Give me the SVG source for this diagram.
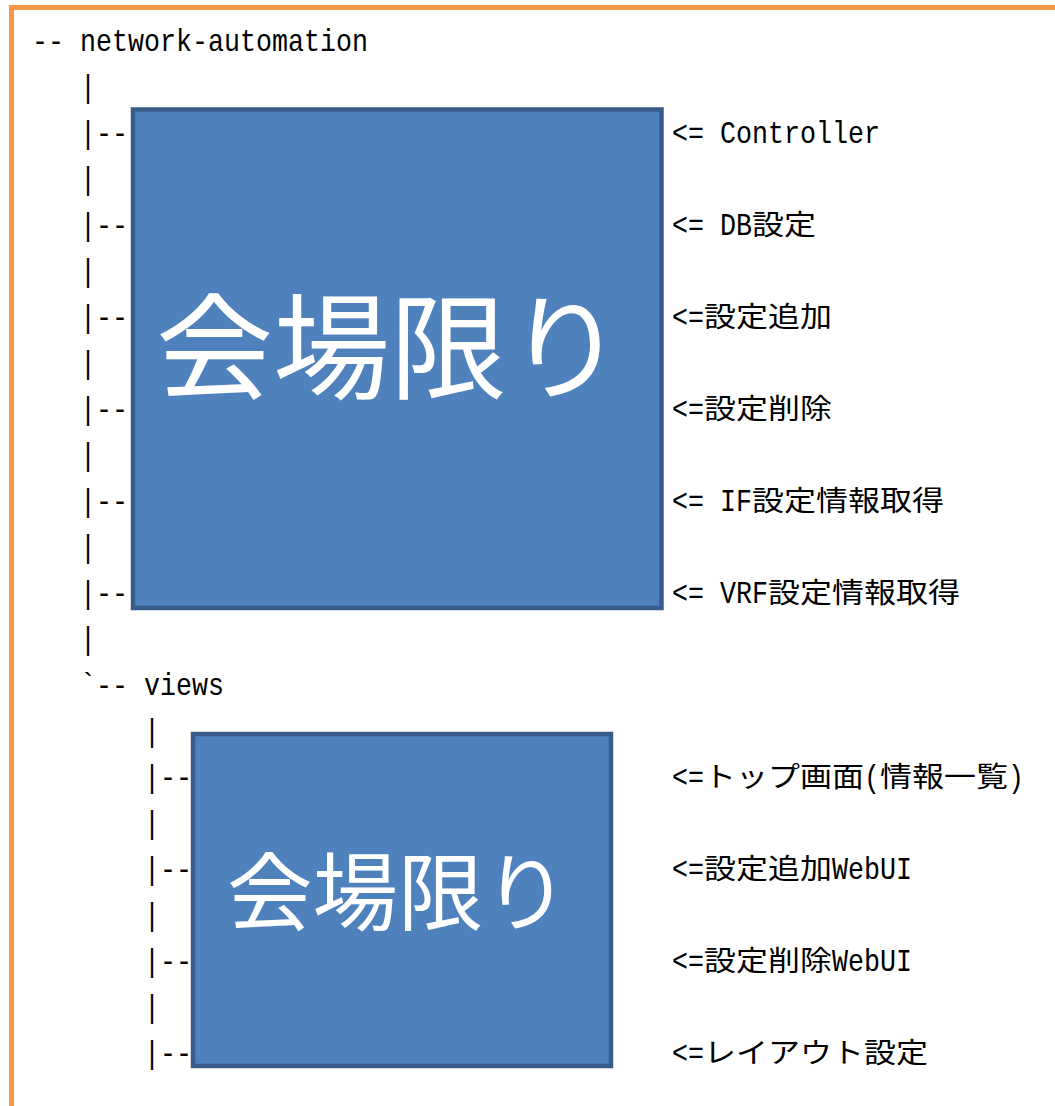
<svg xmlns="http://www.w3.org/2000/svg" width="1055" height="1106" viewBox="0 0 1055 1106">
<defs>
<style>
.t{font-family:"Liberation Mono","DejaVu Sans Mono",monospace;font-size:32px;fill:#000}
.j{font-family:"Noto Sans CJK JP",sans-serif;font-size:28px}
.box{fill:#4F81BD;stroke:#385D8A;stroke-width:4.5}
.big{font-family:"Noto Sans CJK JP",sans-serif;fill:#fff;text-anchor:middle}
</style>
</defs>
<rect x="0" y="0" width="1055" height="1106" fill="#fff"/>
<rect id="frame" x="11.5" y="7.5" width="1200" height="1200" fill="none" stroke="#F79646" stroke-width="5"/>

<g id="connectors">
<text class="t" x="80" y="97" textLength="16" lengthAdjust="spacingAndGlyphs">|</text>
<text class="t" x="80" y="143" textLength="48" lengthAdjust="spacingAndGlyphs">|--</text>
<text class="t" x="80" y="189" textLength="16" lengthAdjust="spacingAndGlyphs">|</text>
<text class="t" x="80" y="235" textLength="48" lengthAdjust="spacingAndGlyphs">|--</text>
<text class="t" x="80" y="281" textLength="16" lengthAdjust="spacingAndGlyphs">|</text>
<text class="t" x="80" y="327" textLength="48" lengthAdjust="spacingAndGlyphs">|--</text>
<text class="t" x="80" y="373" textLength="16" lengthAdjust="spacingAndGlyphs">|</text>
<text class="t" x="80" y="419" textLength="48" lengthAdjust="spacingAndGlyphs">|--</text>
<text class="t" x="80" y="465" textLength="16" lengthAdjust="spacingAndGlyphs">|</text>
<text class="t" x="80" y="511" textLength="48" lengthAdjust="spacingAndGlyphs">|--</text>
<text class="t" x="80" y="557" textLength="16" lengthAdjust="spacingAndGlyphs">|</text>
<text class="t" x="80" y="603" textLength="48" lengthAdjust="spacingAndGlyphs">|--</text>
<text class="t" x="80" y="649" textLength="16" lengthAdjust="spacingAndGlyphs">|</text>
<text class="t" x="80" y="695" textLength="48" lengthAdjust="spacingAndGlyphs">`--</text>
<text class="t" x="144" y="741" textLength="16" lengthAdjust="spacingAndGlyphs">|</text>
<text class="t" x="144" y="787" textLength="48" lengthAdjust="spacingAndGlyphs">|--</text>
<text class="t" x="144" y="833" textLength="16" lengthAdjust="spacingAndGlyphs">|</text>
<text class="t" x="144" y="879" textLength="48" lengthAdjust="spacingAndGlyphs">|--</text>
<text class="t" x="144" y="925" textLength="16" lengthAdjust="spacingAndGlyphs">|</text>
<text class="t" x="144" y="971" textLength="48" lengthAdjust="spacingAndGlyphs">|--</text>
<text class="t" x="144" y="1017" textLength="16" lengthAdjust="spacingAndGlyphs">|</text>
<text class="t" x="144" y="1063" textLength="48" lengthAdjust="spacingAndGlyphs">|--</text>
</g>

<g id="root">
<text class="t" x="32" y="51" textLength="336" lengthAdjust="spacingAndGlyphs">-- network-automation</text>
</g>
<g id="views">
<text class="t" x="144" y="695" textLength="80" lengthAdjust="spacingAndGlyphs">views</text>
</g>

<g id="box1">
<rect class="box" x="133" y="109.5" width="528.5" height="498.5"/>
<text class="big" x="390" y="390" font-size="115" textLength="468" lengthAdjust="spacingAndGlyphs">会場限り</text>
</g>
<g id="box2">
<rect class="box" x="193" y="734" width="418" height="332"/>
<text class="big" x="398" y="924" font-size="85" textLength="342" lengthAdjust="spacingAndGlyphs">会場限り</text>
</g>

<g id="labels">
<g id="l-controller"><text class="t" x="672" y="143"><tspan textLength="208" lengthAdjust="spacingAndGlyphs">&lt;= Controller</tspan></text></g>
<g id="l-db"><text class="t" x="672" y="235"><tspan textLength="80" lengthAdjust="spacingAndGlyphs">&lt;= DB</tspan><tspan class="j" textLength="64" lengthAdjust="spacingAndGlyphs">設定</tspan></text></g>
<g id="l-add"><text class="t" x="672" y="327"><tspan textLength="32" lengthAdjust="spacingAndGlyphs">&lt;=</tspan><tspan class="j" textLength="128" lengthAdjust="spacingAndGlyphs">設定追加</tspan></text></g>
<g id="l-del"><text class="t" x="672" y="419"><tspan textLength="32" lengthAdjust="spacingAndGlyphs">&lt;=</tspan><tspan class="j" textLength="128" lengthAdjust="spacingAndGlyphs">設定削除</tspan></text></g>
<g id="l-if"><text class="t" x="672" y="511"><tspan textLength="80" lengthAdjust="spacingAndGlyphs">&lt;= IF</tspan><tspan class="j" textLength="192" lengthAdjust="spacingAndGlyphs">設定情報取得</tspan></text></g>
<g id="l-vrf"><text class="t" x="672" y="603"><tspan textLength="96" lengthAdjust="spacingAndGlyphs">&lt;= VRF</tspan><tspan class="j" textLength="192" lengthAdjust="spacingAndGlyphs">設定情報取得</tspan></text></g>
<g id="l-top"><text class="t" x="672" y="787"><tspan textLength="32" lengthAdjust="spacingAndGlyphs">&lt;=</tspan><tspan class="j" textLength="160" lengthAdjust="spacingAndGlyphs">トップ画面</tspan><tspan textLength="16" lengthAdjust="spacingAndGlyphs">(</tspan><tspan class="j" textLength="128" lengthAdjust="spacingAndGlyphs">情報一覧</tspan><tspan textLength="16" lengthAdjust="spacingAndGlyphs">)</tspan></text></g>
<g id="l-addweb"><text class="t" x="672" y="879"><tspan textLength="32" lengthAdjust="spacingAndGlyphs">&lt;=</tspan><tspan class="j" textLength="128" lengthAdjust="spacingAndGlyphs">設定追加</tspan><tspan textLength="80" lengthAdjust="spacingAndGlyphs">WebUI</tspan></text></g>
<g id="l-delweb"><text class="t" x="672" y="971"><tspan textLength="32" lengthAdjust="spacingAndGlyphs">&lt;=</tspan><tspan class="j" textLength="128" lengthAdjust="spacingAndGlyphs">設定削除</tspan><tspan textLength="80" lengthAdjust="spacingAndGlyphs">WebUI</tspan></text></g>
<g id="l-layout"><text class="t" x="672" y="1063"><tspan textLength="32" lengthAdjust="spacingAndGlyphs">&lt;=</tspan><tspan class="j" textLength="224" lengthAdjust="spacingAndGlyphs">レイアウト設定</tspan></text></g>
</g>
</svg>
